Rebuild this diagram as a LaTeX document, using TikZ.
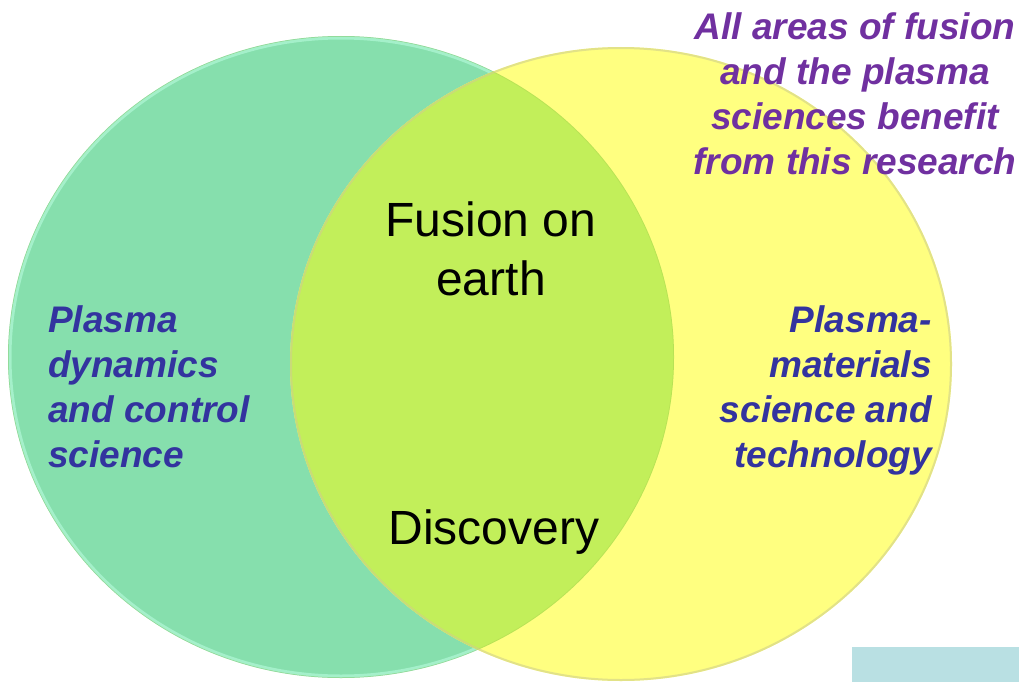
\documentclass[tikz,border=0pt]{standalone}
\usepackage{fontspec}
\setmainfont{Liberation Sans}
\usetikzlibrary{positioning}
\definecolor{mintfill}{HTML}{86DFAD}
\definecolor{mintrim}{HTML}{A4F0CA}
\definecolor{lemonfill}{HTML}{FFFF80}
\definecolor{lemonrim}{HTML}{CFCF8C}
\definecolor{limefill}{HTML}{C2EF5A}
\definecolor{navytext}{HTML}{33339F}
\definecolor{purpletext}{HTML}{7030A0}
\definecolor{palebox}{HTML}{B9E0E3}

\begin{document}
\begin{tikzpicture}[
  x=1pt, y=-1pt,
  lbl/.style={inner sep=0pt, font=\fontsize{37}{45}\selectfont\bfseries\itshape, text=navytext},
  note/.style={lbl, text=purpletext, align=center},
  big/.style={inner sep=0pt, align=center, font=\fontsize{48}{59}\selectfont}]
\useasboundingbox (0,0) rectangle (1019,682);
\coordinate (gc) at (341,357);
\coordinate (yc) at (621,364);
% circles
\fill[mintfill] (gc) ellipse [x radius=333pt, y radius=321pt];
\draw[mintrim, line width=3pt] (gc) ellipse [x radius=331pt, y radius=319pt];
\fill[lemonfill] (yc) ellipse [x radius=331pt, y radius=317pt];
\begin{scope}
  \clip (gc) ellipse [x radius=333pt, y radius=321pt];
  \fill[limefill] (yc) ellipse [x radius=331pt, y radius=317pt];
  \draw[limefill!80!black, opacity=0.25, line width=1.5pt] (gc) ellipse [x radius=333pt, y radius=321pt];
\end{scope}
\draw[lemonrim, opacity=0.6, line width=2pt] (yc) ellipse [x radius=330pt, y radius=316pt];
% labels
\node[lbl, anchor=north west, align=left] (dyn) at (48,305) {Plasma\\dynamics\\and control\\science};
\node[lbl, anchor=north east, align=right] (mat) at (932,305) {Plasma-\\materials\\science and\\technology};
\node[note, anchor=north] (all) at (855,12) {All areas of fusion\\and the plasma\\sciences benefit\\from this research};
\node[big, anchor=north] (earth) at (491,202) {Fusion on\\earth};
\node[big, anchor=north] (disc) at (494,510) {Discovery};
\fill[palebox] (852,647) rectangle (1019,682);
\end{tikzpicture}
\end{document}
